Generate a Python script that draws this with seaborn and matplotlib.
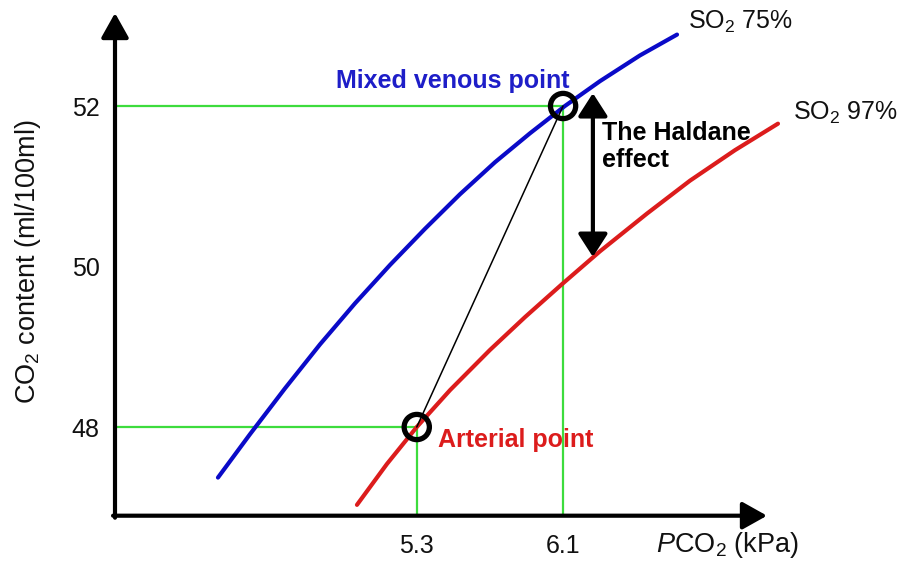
import numpy as np
import pandas as pd
import matplotlib
matplotlib.use("Agg")
import matplotlib.pyplot as plt
import seaborn as sns

# ---- data ----
blue_x = [4.213, 4.388, 4.579, 4.771, 4.962, 5.154, 5.345, 5.536, 5.728, 5.919, 6.110, 6.302, 6.520, 6.723]
blue_y = [47.37, 47.91, 48.48, 49.03, 49.54, 50.02, 50.47, 50.90, 51.30, 51.66, 52.00, 52.31, 52.63, 52.89]
red_x = [4.973, 5.137, 5.300, 5.482, 5.700, 5.892, 6.094, 6.302, 6.559, 6.794, 7.040, 7.275]
red_y = [47.03, 47.54, 48.00, 48.46, 48.96, 49.37, 49.78, 50.19, 50.66, 51.07, 51.45, 51.78]
venous = (6.1, 52.0)
arterial = (5.3, 48.0)
haldane_x = 6.263
haldane_top = 52.16
haldane_bottom = 50.12
xticks = [5.3, 6.1]
xticklabels = ["5.3", "6.1"]
yticks = [48, 50, 52]
yticklabels = ["48", "50", "52"]

BLUE = "#0a0ac8"
RED = "#dc1c1c"
GREEN = "#3ddc3d"

sns.set_theme(style="white")
plt.rcParams["font.family"] = ["Liberation Sans", "DejaVu Sans"]
plt.rcParams["mathtext.fontset"] = "custom"
plt.rcParams["mathtext.rm"] = "Liberation Sans"
plt.rcParams["mathtext.it"] = "Liberation Sans:italic"
plt.rcParams["mathtext.bf"] = "Liberation Sans:bold"

W, H = 903, 565
fig = plt.figure(figsize=(W / 100, H / 100), dpi=100)
ax = fig.add_axes([115 / W, (H - 515.7) / H, (767 - 115) / W, (515.7 - 13) / H])
ax.set_xlim(3.65, 7.215)
ax.set_ylim(46.895, 53.159)
for s in ax.spines.values():
    s.set_visible(False)

# green guide lines
for (px, py) in (venous, arterial):
    ax.plot([3.65, px], [py, py], color=GREEN, lw=1.6, zorder=1, solid_capstyle="butt")
    ax.plot([px, px], [46.895, py], color=GREEN, lw=1.6, zorder=1, solid_capstyle="butt")

# curves
df_b = pd.DataFrame({"x": blue_x, "y": blue_y})
df_r = pd.DataFrame({"x": red_x, "y": red_y})
sns.lineplot(data=df_b, x="x", y="y", ax=ax, color=BLUE, lw=3.0, sort=False, clip_on=False, zorder=3)
sns.lineplot(data=df_r, x="x", y="y", ax=ax, color=RED, lw=3.0, sort=False, clip_on=False, zorder=3)

# connecting line
ax.plot([arterial[0], venous[0]], [arterial[1], venous[1]], color="black", lw=1.1, zorder=4)

# points
df_p = pd.DataFrame({"x": [venous[0], arterial[0]], "y": [venous[1], arterial[1]]})
sns.scatterplot(data=df_p, x="x", y="y", ax=ax, s=330, marker="o", facecolor="none",
                edgecolor="black", linewidth=3.8, zorder=6, clip_on=False)

# Haldane double arrow
ax.annotate("", xy=(haldane_x, haldane_bottom), xytext=(haldane_x, haldane_top),
            arrowprops=dict(arrowstyle="<|-|>,head_length=0.7,head_width=0.45",
                            color="black", lw=3, shrinkA=0, shrinkB=0, mutation_scale=20),
            zorder=5)

# axis arrows
arrow_kw = dict(arrowstyle="-|>,head_length=0.75,head_width=0.42", color="black",
                lw=3, shrinkA=0, shrinkB=0, mutation_scale=20)
ax.annotate("", xy=(1, 0), xytext=(-0.003, 0), xycoords="axes fraction", arrowprops=arrow_kw)
ax.annotate("", xy=(0, 1), xytext=(0, -0.004), xycoords="axes fraction", arrowprops=arrow_kw)

# ticks
ax.set_xticks(xticks)
ax.set_xticklabels(xticklabels)
ax.set_yticks(yticks)
ax.set_yticklabels(yticklabels)
ax.tick_params(axis="both", length=0, labelsize=18, colors="#111111")
ax.tick_params(axis="x", pad=13)
ax.tick_params(axis="y", pad=11)
ax.set_yticks([50], minor=True)
ax.tick_params(axis="y", which="minor", direction="in", length=9, width=2.6, color="black", left=True)

# axis labels
ax.set_xlabel("$P$CO$_2$ (kPa)", fontsize=19.5, color="#111111")
ax.xaxis.set_label_coords((728 - 115) / 652, -(545 - 515.7) / 502.7)
ax.xaxis.label.set_va("center")
ax.set_ylabel("CO$_2$ content (ml/100ml)", fontsize=19.5, color="#111111")
ax.yaxis.set_label_coords((28 - 115) / 652, (515.7 - 262) / 502.7)
ax.yaxis.label.set_va("center")

# annotations
ax.text(4.858, 52.31, "Mixed venous point", color="#1e1ec8", fontsize=18, fontweight="bold",
        ha="left", va="center")
ax.text(5.416, 47.84, "Arterial point", color=RED, fontsize=18, fontweight="bold",
        ha="left", va="center")
ax.text(6.313, 51.50, "The Haldane\neffect", color="black", fontsize=18, fontweight="bold",
        ha="left", va="center", linespacing=1.15)
ax.text(6.783, 53.05, "SO$_2$ 75%", color="#111111", fontsize=18, ha="left", va="center", clip_on=False)
ax.text(7.357, 51.91, "SO$_2$ 97%", color="#111111", fontsize=18, ha="left", va="center", clip_on=False)

fig.savefig("out.png", dpi=100, facecolor="white")
